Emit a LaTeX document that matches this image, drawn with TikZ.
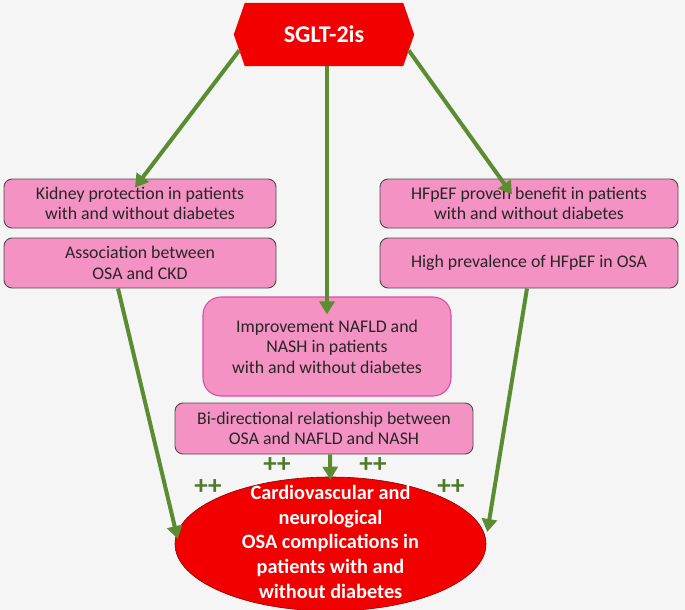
\documentclass[tikz,border=0pt]{standalone}
\usepackage{fontspec}
\setmainfont{Carlito}
\usetikzlibrary{arrows.meta,calc,backgrounds,shapes.geometric}
\definecolor{bg}{HTML}{F4F5F4}
\definecolor{pinkbox}{HTML}{F592C4}
\definecolor{redfill}{HTML}{F20000}
\definecolor{arrgreen}{HTML}{5B8C32}
\definecolor{plusgreen}{HTML}{4E7A2E}
\definecolor{magborder}{HTML}{D94FA8}
\tikzset{
  x=1pt,y=-1pt,
  pinkbox/.style={draw=black!70,line width=0.9pt,fill=pinkbox,rounded corners=8pt,
    align=center,font=\fontsize{17.8}{20.5}\selectfont,text=black!85,inner sep=0pt},
  arr/.style={draw=arrgreen,line width=4pt,-{Triangle[length=13pt,width=15pt]}},
  plus/.style={text=plusgreen,font=\bfseries\fontsize{27}{27}\selectfont,inner sep=0pt},
}
\begin{document}
\begin{tikzpicture}
\useasboundingbox (0,0) rectangle (685,610);
% top hexagon
\node[minimum width=180pt,minimum height=63pt,inner sep=0pt,text=white,
  font=\bfseries\fontsize{24}{26}\selectfont] (sglt) at (324,34.5) {SGLT-2is};
\begin{scope}[on background layer]
\fill[bg] (0,0) rectangle (685,610);
\fill[redfill] ([xshift=11pt]sglt.north west) -- ([xshift=-11pt]sglt.north east) -- (sglt.east)
  -- ([xshift=-11pt]sglt.south east) -- ([xshift=11pt]sglt.south west) -- (sglt.west) -- cycle;
\end{scope}
% boxes
\node[pinkbox,minimum width=272pt,minimum height=49pt] (kidney) at (140,203.5)
  {Kidney protection in patients\\with and without diabetes};
\node[pinkbox,minimum width=272pt,minimum height=50pt] (assoc) at (140,263)
  {Association between\\OSA and CKD};
\node[pinkbox,minimum width=298pt,minimum height=49pt] (hfpef) at (529,203.5)
  {HFpEF proven benefit in patients\\with and without diabetes};
\node[pinkbox,minimum width=298pt,minimum height=50pt] (prev) at (529,263)
  {High prevalence of HFpEF in OSA};
\node[pinkbox,draw=magborder,line width=1.1pt,rounded corners=18pt,minimum width=248pt,minimum height=99pt] (nafld) at (327,346.5)
  {Improvement NAFLD and\\NASH in patients\\with and without diabetes};
\node[pinkbox,minimum width=298pt,minimum height=51pt] (bidir) at (324,428.5)
  {Bi-directional relationship between\\OSA and NAFLD and NASH};
% ellipse
\node[ellipse,draw=black!45!red,line width=0.6pt,fill=redfill,minimum width=311pt,minimum height=134pt,inner sep=0pt,
  text=white,font=\bfseries\fontsize{20.3}{24.7}\selectfont] (osa) at (330.5,544)
  {\raisebox{-5pt}[0pt][0pt]{\begin{tabular}{@{}c@{}}Cardiovascular and\\neurological\\OSA complications in\\patients with and\\without diabetes\end{tabular}}};
% plus marks
\node[plus] (p1) at (277,465) {++};
\node[plus] (p2) at (373,465) {++};
\node[plus] (p3) at (208,487) {++};
\node[plus] (p4) at (451,487) {++};
% arrows
\draw[arr] ($(sglt.west)!0.5!([xshift=11pt]sglt.south west)$) -- ([xshift=-5pt,yshift=-9pt]kidney.north);
\draw[arr] ($(sglt.east)!0.5!([xshift=-11pt]sglt.south east)$) -- ([xshift=-17pt,yshift=-16pt]hfpef.north);
\draw[arr] ([xshift=3pt]sglt.south) -- ([yshift=-18pt]nafld.north);
\draw[arr] ([xshift=-22pt]assoc.south) -- ($(osa.west)+(3,-5)$);
\draw[arr] ([xshift=-2pt]prev.south) -- ($(osa.east)+(1,-12)$);
\draw[arr] ([xshift=6pt]bidir.south) -- ([yshift=-3pt]osa.north);
\end{tikzpicture}
\end{document}
